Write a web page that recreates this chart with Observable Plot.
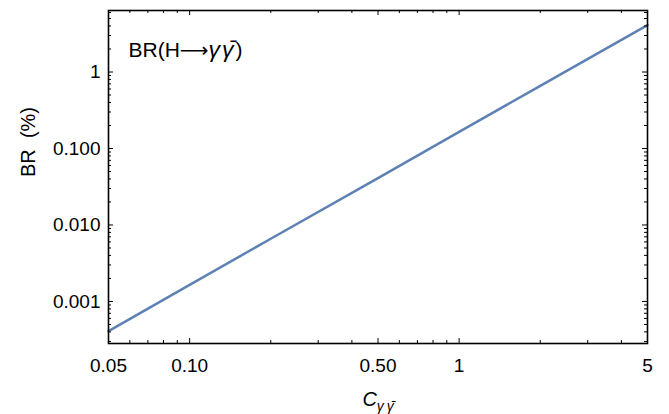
<!DOCTYPE html>
<html><head><meta charset="utf-8">
<script src="https://cdn.jsdelivr.net/npm/d3@7"></script>
<script src="https://cdn.jsdelivr.net/npm/@observablehq/plot@0.6"></script>
<style>body{margin:0;background:#fff} svg{display:block}</style>
</head><body><div id="chart"></div>
<script>
// Data
const coupling = [0.05, 0.1, 0.2, 0.5, 1, 2, 5];
const branchingRatio = [0.00041, 0.00165, 0.0066, 0.041, 0.165, 0.66, 4.1];

const xMajorTicks = [0.05, 0.1, 0.5, 1, 5];
const xTickLabels = ["0.05", "0.10", "0.50", "1", "5"];
const xMinorTicks = [0.06, 0.07, 0.08, 0.09, 0.2, 0.3, 0.4, 0.6, 0.7, 0.8, 0.9, 2, 3, 4];

const yMajorTicks = [0.001, 0.01, 0.1, 1];
const yTickLabels = ["0.001", "0.010", "0.100", "1"];
const yMinorTicks = [0.0003, 0.0004, 0.0005, 0.0006, 0.0007, 0.0008, 0.0009,
  0.002, 0.003, 0.004, 0.005, 0.006, 0.007, 0.008, 0.009,
  0.02, 0.03, 0.04, 0.05, 0.06, 0.07, 0.08, 0.09,
  0.2, 0.3, 0.4, 0.5, 0.6, 0.7, 0.8, 0.9,
  2, 3, 4, 5, 6];

const title = "BR(H→γγ)";
const xTitle = "Cγγ";
const yTitle = "BR\u00a0\u00a0(%)";

const table = coupling.map((c, i) => ({c, br: branchingRatio[i]}));

const W = 669, H = 414, ML = 108, MR = 22, MT = 10, MB = 71;
const frameW = W - ML - MR, frameH = H - MT - MB;
const majorLen = 5, minorLen = 3;

const font = "'Liberation Sans', Arial, Helvetica, sans-serif";
const tickStyle = {stroke: "#000", strokeWidth: 1};

const chart = Plot.plot({
  width: W,
  height: H,
  marginLeft: ML,
  marginRight: MR,
  marginTop: MT,
  marginBottom: MB,
  style: {fontFamily: font, fontSize: "19px", background: "#fff", color: "#000"},
  x: {type: "log", domain: [0.05, 5], label: null, axis: null},
  y: {type: "log", domain: [0.000282, 6.37], label: null, axis: null},
  marks: [
    Plot.line(table, {x: "c", y: "br", stroke: "#5E81B5", strokeWidth: 2.5}),
    // inward ticks on all four sides
    Plot.tickX(xMajorTicks, {x: d => d, insetTop: frameH - majorLen, ...tickStyle}),
    Plot.tickX(xMinorTicks, {x: d => d, insetTop: frameH - minorLen, ...tickStyle}),
    Plot.tickX(xMajorTicks, {x: d => d, insetBottom: frameH - majorLen, ...tickStyle}),
    Plot.tickX(xMinorTicks, {x: d => d, insetBottom: frameH - minorLen, ...tickStyle}),
    Plot.tickY(yMajorTicks, {y: d => d, insetRight: frameW - majorLen, ...tickStyle}),
    Plot.tickY(yMinorTicks, {y: d => d, insetRight: frameW - minorLen, ...tickStyle}),
    Plot.tickY(yMajorTicks, {y: d => d, insetLeft: frameW - majorLen, ...tickStyle}),
    Plot.tickY(yMinorTicks, {y: d => d, insetLeft: frameW - minorLen, ...tickStyle}),
    // tick labels
    Plot.text(xMajorTicks, {x: d => d, frameAnchor: "bottom", lineAnchor: "middle", dy: 22,
      fontSize: 19, text: (d, i) => xTickLabels[i]}),
    Plot.text(yMajorTicks, {y: d => d, frameAnchor: "left", textAnchor: "end", lineAnchor: "middle", dx: -8,
      fontSize: 19, text: (d, i) => yTickLabels[i]}),
    Plot.frame({stroke: "#000", strokeWidth: 1.6}),
    // titles
    Plot.text([title], {frameAnchor: "top-left", textAnchor: "start", lineAnchor: "middle",
      dx: 20, dy: 40, fontSize: 21, text: d => d}),
    Plot.text([xTitle], {frameAnchor: "bottom", lineAnchor: "middle", dy: 56, fontSize: 20, text: d => d}),
    Plot.text([yTitle], {frameAnchor: "left", lineAnchor: "middle", rotate: -90, dx: -80, fontSize: 20, text: d => d})
  ]
});

document.getElementById("chart").appendChild(chart);

// rich text: italic gammas, bar, subscript
const svg = d3.select(chart);
svg.selectAll("text").filter(function() { return this.textContent === title; }).each(function() {
  const t = d3.select(this);
  t.text(null);
  t.append("tspan").text("BR(H");
  t.append("tspan").attr("font-family", "'DejaVu Sans'").attr("font-size", 20).text("⟶");
  t.append("tspan").attr("font-style", "italic").attr("font-size", 23).attr("letter-spacing", 2).text("γ");
  t.append("tspan").attr("font-style", "italic").attr("font-size", 23).attr("letter-spacing", 2).text("γ\u0304");
  t.append("tspan").text(")");
});
svg.selectAll("text").filter(function() { return this.textContent === xTitle; }).each(function() {
  const t = d3.select(this);
  t.text(null);
  t.append("tspan").attr("font-style", "italic").text("C");
  t.append("tspan").attr("font-style", "italic").attr("font-size", 14).attr("dy", 5).text("γ\u2009");
  t.append("tspan").attr("font-style", "italic").attr("font-size", 14).text("γ\u0304");
});
</script>
</body></html>
